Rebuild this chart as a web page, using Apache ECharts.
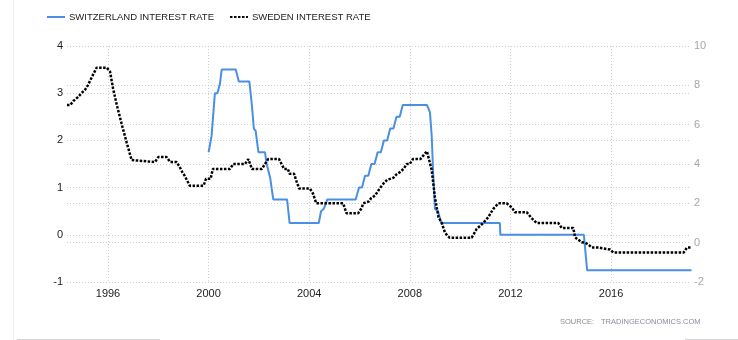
<!DOCTYPE html>
<html>
<head>
<meta charset="utf-8">
<script src="https://cdn.jsdelivr.net/npm/echarts@6/dist/echarts.min.js"></script>
<style>
  html, body { margin: 0; padding: 0; background: #fff; }
  #chart { width: 738px; height: 340px; }
</style>
</head>
<body>
<div id="chart"></div>
<script>
// Policy rates, dates as decimal years
const swissDates = [2000.00, 2000.12, 2000.25, 2000.35, 2000.45, 2000.52, 2001.08, 2001.20, 2001.62, 2001.72,
  2001.80, 2001.87, 2001.98, 2002.24, 2002.31, 2002.45, 2002.57, 2003.12, 2003.22, 2004.38,
  2004.47, 2004.58, 2004.72, 2005.85, 2005.98, 2006.10, 2006.22, 2006.35, 2006.47, 2006.60,
  2006.72, 2006.85, 2006.97, 2007.10, 2007.22, 2007.35, 2007.47, 2007.60, 2007.72, 2008.68,
  2008.80, 2008.87, 2008.93, 2009.00, 2009.12, 2009.25, 2011.58, 2011.60, 2014.92, 2015.05,
  2019.20];
const swissRates = [1.75, 2.1, 3.0, 3.0, 3.2, 3.5, 3.5, 3.25, 3.25, 2.75,
  2.25, 2.2, 1.75, 1.75, 1.5, 1.2, 0.75, 0.75, 0.25, 0.25,
  0.5, 0.55, 0.75, 0.75, 1.0, 1.0, 1.25, 1.25, 1.5, 1.5,
  1.75, 1.75, 2.0, 2.0, 2.25, 2.25, 2.5, 2.5, 2.75, 2.75,
  2.6, 2.1, 1.3, 0.55, 0.5, 0.25, 0.25, 0.0, 0.0, -0.75,
  -0.75];

const swedenDates = [1994.37, 1994.50, 1994.62, 1994.80, 1994.95, 1995.10, 1995.20, 1995.35, 1995.55, 1995.95,
  1996.08, 1996.20, 1996.35, 1996.55, 1996.74, 1996.94, 1997.00, 1997.87, 1998.00, 1998.33,
  1998.47, 1998.73, 1998.85, 1998.95, 1999.05, 1999.15, 1999.25, 1999.80, 1999.90, 2000.08,
  2000.17, 2000.85, 2000.98, 2001.45, 2001.58, 2001.72, 2002.12, 2002.24, 2002.37, 2002.80,
  2002.90, 2003.00, 2003.15, 2003.22, 2003.40, 2003.50, 2003.60, 2004.03, 2004.15, 2004.28,
  2005.35, 2005.48, 2005.95, 2006.08, 2006.15, 2006.38, 2006.45, 2006.62, 2006.80, 2006.95,
  2007.10, 2007.35, 2007.45, 2007.62, 2007.75, 2007.88, 2008.00, 2008.12, 2008.42, 2008.55,
  2008.68, 2008.87, 2009.00, 2009.14, 2009.27, 2009.40, 2009.58, 2010.46, 2010.66, 2010.92,
  2011.12, 2011.32, 2011.52, 2011.85, 2012.05, 2012.18, 2012.65, 2012.84, 2013.04, 2013.90,
  2014.04, 2014.50, 2014.57, 2014.83, 2014.97, 2015.10, 2015.24, 2015.50, 2015.56, 2015.96,
  2016.09, 2018.89, 2019.02, 2019.18];
const swedenRates = [7.0, 7.0, 7.2, 7.4, 7.6, 7.8, 8.0, 8.4, 8.9, 8.9,
  8.7, 7.85, 7.0, 6.0, 5.1, 4.2, 4.1, 4.1, 4.35, 4.35,
  4.1, 4.1, 3.85, 3.6, 3.4, 3.15, 2.9, 2.9, 3.25, 3.25,
  3.75, 3.75, 4.0, 4.0, 4.25, 3.75, 3.75, 4.0, 4.25, 4.25,
  4.0, 3.75, 3.75, 3.5, 3.5, 3.1, 2.75, 2.75, 2.5, 2.0,
  2.0, 1.5, 1.5, 1.75, 2.0, 2.1, 2.25, 2.4, 2.75, 3.0,
  3.2, 3.3, 3.45, 3.6, 3.75, 4.0, 4.0, 4.25, 4.25, 4.45,
  4.65, 3.7, 2.3, 1.3, 1.0, 0.5, 0.25, 0.25, 0.7, 1.0,
  1.3, 1.72, 2.0, 2.0, 1.8, 1.55, 1.55, 1.25, 1.0, 1.0,
  0.75, 0.75, 0.27, 0.02, 0.0, -0.1, -0.25, -0.25, -0.35, -0.35,
  -0.5, -0.5, -0.25, -0.25];

const yearTicks = [1996, 2000, 2004, 2008, 2012, 2016];
const swissName = 'SWITZERLAND INTEREST RATE';
const swedenName = 'SWEDEN INTEREST RATE';

const zip = (xs, ys) => xs.map((x, i) => [x, ys[i]]);
const font = 'Liberation Sans, Arial, sans-serif';
const gridLine = { lineStyle: { color: '#cfcfcf', type: [1, 2], width: 1 } };

const chart = echarts.init(document.getElementById('chart'), null, { renderer: 'canvas' });
chart.setOption({
  animation: false,
  backgroundColor: '#fff',
  textStyle: { fontFamily: font },
  grid: { left: 67, right: 47, top: 46, bottom: 58, containLabel: false },
  legend: {
    left: 46, top: 12, padding: 0,
    itemWidth: 18, itemHeight: 8, itemGap: 15,
    itemStyle: { opacity: 0 },
    textStyle: { fontSize: 9.5, color: '#222', fontFamily: font, padding: [0, 0, 0, -1] },
    data: [swissName, swedenName]
  },
  xAxis: {
    type: 'value',
    min: 1994.37, max: 2019.18,
    axisLine: { show: false },
    axisTick: { show: true, length: 3, customValues: yearTicks, lineStyle: { color: '#cfcfcf', type: [1, 2] } },
    axisLabel: {
      customValues: yearTicks, color: '#222', fontSize: 11, margin: 6,
      formatter: v => String(Math.round(v))
    },
    splitLine: { show: true, ...gridLine }
  },
  yAxis: [
    {
      type: 'value', min: -1, max: 4, interval: 1, position: 'left',
      axisLine: { show: false }, axisTick: { show: false },
      axisLabel: { color: '#222', fontSize: 11, margin: 4 },
      splitLine: { show: true, ...gridLine }
    },
    {
      type: 'value', min: -2, max: 10, interval: 2, position: 'right',
      axisLine: { show: false }, axisTick: { show: false },
      axisLabel: { color: '#a6a6a6', fontSize: 11, margin: 3 },
      splitLine: { show: true, ...gridLine }
    }
  ],
  series: [
    {
      name: swissName, type: 'line', yAxisIndex: 0,
      data: zip(swissDates, swissRates),
      showSymbol: false, symbol: 'none',
      lineStyle: { color: '#4a8fe6', width: 2 },
      itemStyle: { color: '#4a8fe6' }
    },
    {
      name: swedenName, type: 'line', yAxisIndex: 1,
      data: zip(swedenDates, swedenRates),
      showSymbol: false, symbol: 'none',
      lineStyle: { color: '#000', width: 2.5, type: [2.5, 1.5] },
      itemStyle: { color: '#000' }
    }
  ],
  graphic: [
    { type: 'line', shape: { x1: 13.5, y1: 0, x2: 13.5, y2: 340 }, style: { stroke: '#f0f0f0', lineWidth: 1 } },
    { type: 'line', shape: { x1: 17, y1: 339.5, x2: 160, y2: 339.5 }, style: { stroke: '#d4d4d4', lineWidth: 1 } },
    { type: 'line', shape: { x1: 685, y1: 339.5, x2: 738, y2: 339.5 }, style: { stroke: '#d4d4d4', lineWidth: 1 } },
    { type: 'text', left: 560, top: 318, style: { text: 'SOURCE:', fontSize: 7.5, fontFamily: font, fill: '#8c8c8c' } },
    { type: 'text', left: 601, top: 318, style: { text: 'TRADINGECONOMICS.COM', fontSize: 7.5, fontFamily: font, fill: '#8f88a3' } }
  ]
});
</script>
</body>
</html>
